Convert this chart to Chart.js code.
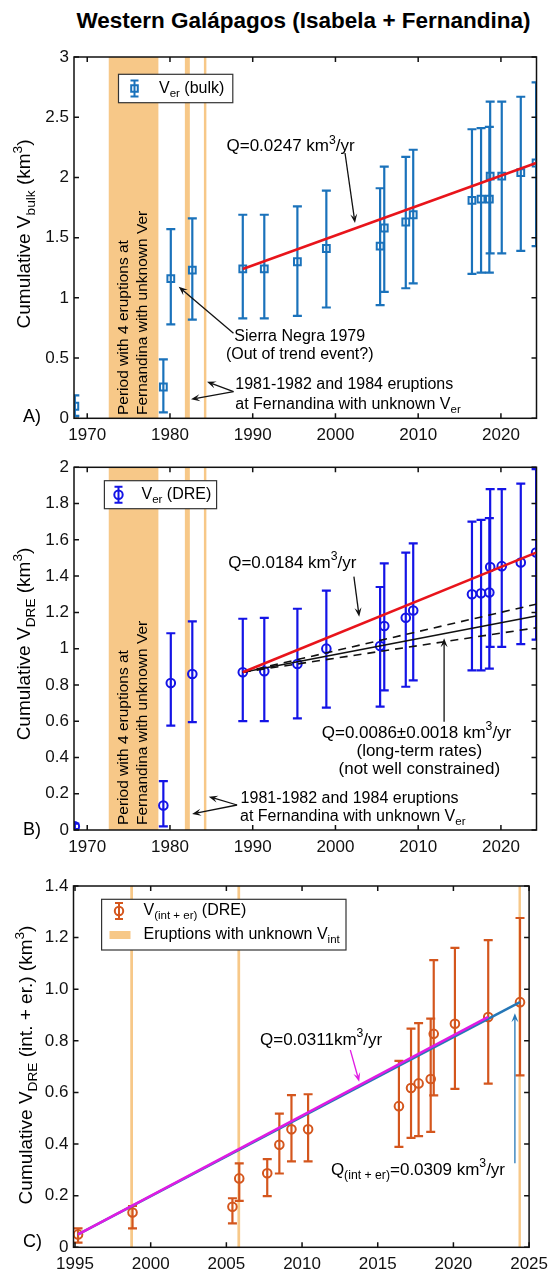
<!DOCTYPE html>
<html>
<head>
<meta charset="utf-8">
<script src="https://cdn.jsdelivr.net/npm/chart.js@4.4.1/dist/chart.umd.min.js"></script>
<style>
  body { margin: 0; background: #fff; width: 555px; height: 1270px; position: relative; overflow: hidden; }
  #title { position: absolute; top: 8px; left: 0; width: 607px; text-align: center;
           font: bold 22.5px "Liberation Sans", Arial, sans-serif; color: #000; }
  canvas { position: absolute; left: 0; }
</style>
</head>
<body>
<div id="title">Western Galápagos (Isabela + Fernandina)</div>
<canvas id="chartA" width="555" height="410" style="top:30px"></canvas>
<canvas id="chartB" width="555" height="420" style="top:440px"></canvas>
<canvas id="chartC" width="555" height="410" style="top:860px"></canvas>
<script>
const FONT = '"Liberation Sans", Arial, sans-serif';

// eruption dates (decimal years) used in panels A and B
const eruptionYears = [1968.5, 1979.2, 1980.1, 1982.7, 1988.8, 1991.4, 1995.4, 1998.9, 2005.4, 2005.9,
  2008.5, 2009.4, 2016.5, 2017.6, 2018.6, 2018.7, 2020.1, 2022.4, 2024.25];

// A) cumulative bulk volume (km3) with error bounds
const vBulk = [0.10, 0.26, 1.16, 1.23, 1.24, 1.24, 1.30, 1.41, 1.43, 1.58, 1.63, 1.69, 1.81, 1.82, 1.82, 2.01, 2.01, 2.04, 2.12];
const bulkLow = [0.02, 0.05, 0.78, 0.82, 0.83, 0.83, 0.85, 0.92, 0.94, 1.05, 1.08, 1.12, 1.20, 1.21, 1.21, 1.37, 1.37, 1.39, 1.43];
const bulkHigh = [0.19, 0.49, 1.57, 1.66, 1.69, 1.69, 1.76, 1.89, 1.91, 2.09, 2.17, 2.23, 2.40, 2.41, 2.42, 2.63, 2.63, 2.67, 2.79];

// B) cumulative DRE volume (km3)
const vDre = [0.02, 0.135, 0.81, 0.86, 0.87, 0.875, 0.915, 1.00, 1.015, 1.125, 1.17, 1.21, 1.30, 1.305, 1.31, 1.45, 1.455, 1.475, 1.53];
const dreLow = [0.005, 0.02, 0.575, 0.595, 0.60, 0.60, 0.615, 0.675, 0.68, 0.77, 0.79, 0.825, 0.88, 0.88, 0.89, 1.01, 1.01, 1.025, 1.05];
const dreHigh = [0.035, 0.27, 1.085, 1.15, 1.165, 1.17, 1.22, 1.32, 1.34, 1.47, 1.53, 1.58, 1.70, 1.71, 1.72, 1.88, 1.88, 1.91, 1.99];

// C) cumulative intrusive + eruptive DRE volume (km3)
const intErYears = [1995.2, 1998.8, 2005.4, 2005.85, 2007.7, 2008.5, 2009.3, 2010.4, 2016.4, 2017.2, 2017.7, 2018.5, 2018.7, 2020.1, 2022.3, 2024.4];
const vIntEr = [0.05, 0.135, 0.157, 0.267, 0.287, 0.397, 0.457, 0.457, 0.547, 0.617, 0.635, 0.652, 0.827, 0.866, 0.892, 0.95];
const intErLow = [0.018, 0.073, 0.093, 0.18, 0.198, 0.286, 0.333, 0.333, 0.389, 0.424, 0.431, 0.447, 0.589, 0.614, 0.634, 0.666];
const intErHigh = [0.073, 0.16, 0.19, 0.325, 0.342, 0.518, 0.59, 0.593, 0.722, 0.847, 0.869, 0.886, 1.113, 1.16, 1.19, 1.276];

// trend lines (start / end)
const fitBulkX = [1988.8, 2024.25];
const fitBulkY = [1.24, 2.12];
const fitDreX = [1988.8, 2024.25];
const fitDreY = [0.87, 1.53];
const longTermY = [0.87, 1.18];
const longTermHighY = [0.87, 1.245];
const longTermLowY = [0.87, 1.115];
const fitIntErX = [1995.2, 2022.3];
const fitIntErY = [0.05, 0.893];
const fitIntErAllX = [1995.2, 2024.4];
const fitIntErAllY = [0.05, 0.95];

// periods with unknown volumes
const unknownPeriodsAB = [[1972.6, 1978.6], [1981.8, 1982.4], [1984.1, 1984.4]];
const unknownIntC = [[1998.65, 1998.83], [2005.73, 2005.91], [2024.3, 2024.46]];

// ticks
const yearTicksAB = [1970, 1980, 1990, 2000, 2010, 2020];
const yearTicksC = [1995, 2000, 2005, 2010, 2015, 2020, 2025];
const bulkTicks = [0, 0.5, 1, 1.5, 2, 2.5, 3];
const bulkTickLabels = ["0", "0.5", "1", "1.5", "2", "2.5", "3"];
const dreTicks = [0, 0.2, 0.4, 0.6, 0.8, 1, 1.2, 1.4, 1.6, 1.8, 2];
const dreTickLabels = ["0", "0.2", "0.4", "0.6", "0.8", "1", "1.2", "1.4", "1.6", "1.8", "2"];
const intErTicks = [0, 0.2, 0.4, 0.6, 0.8, 1.0, 1.2, 1.4];
const intErTickLabels = ["0", "0.2", "0.4", "0.6", "0.8", "1.0", "1.2", "1.4"];

const BAND = "#F7C888";
const BLUE_A = "#1A72BB";
const BLUE_B = "#1414E6";
const ORANGE = "#D4561D";
const RED = "#E8141B";
const MAGENTA = "#E01BE3";
const BLUE_C = "#2677B7";

// text with _{sub} and ^{sup}
function parseRich(str) {
  const segs = [];
  const re = /([_^])\{([^}]*)\}/g;
  let last = 0, m;
  while ((m = re.exec(str))) {
    if (m.index > last) segs.push({ t: str.slice(last, m.index), mode: 0 });
    segs.push({ t: m[2], mode: m[1] === "_" ? 1 : 2 });
    last = re.lastIndex;
  }
  if (last < str.length) segs.push({ t: str.slice(last), mode: 0 });
  return segs;
}

function richText(ctx, str, x, y, size, align = "left", color = "#000") {
  const segs = parseRich(str);
  const fontFor = mode => `${mode ? size * 0.72 : size}px ${FONT}`;
  let w = 0;
  segs.forEach(s => {
    ctx.font = fontFor(s.mode);
    s.w = ctx.measureText(s.t).width;
    w += s.w;
  });
  let cx = align === "center" ? x - w / 2 : align === "right" ? x - w : x;
  ctx.textBaseline = "middle";
  ctx.textAlign = "left";
  ctx.fillStyle = color;
  segs.forEach(s => {
    ctx.font = fontFor(s.mode);
    const dy = s.mode === 1 ? size * 0.32 : s.mode === 2 ? -size * 0.38 : 0;
    ctx.fillText(s.t, cx, y + dy);
    cx += s.w;
  });
}

function rotatedText(ctx, str, x, y, size, align) {
  ctx.save();
  ctx.translate(x, y);
  ctx.rotate(-Math.PI / 2);
  richText(ctx, str, 0, 0, size, align);
  ctx.restore();
}

function arrow(ctx, x0, y0, x1, y1, color) {
  const ang = Math.atan2(y1 - y0, x1 - x0);
  const len = 9, half = 3.5;
  ctx.save();
  ctx.strokeStyle = color;
  ctx.fillStyle = color;
  ctx.lineWidth = 1.3;
  ctx.beginPath();
  ctx.moveTo(x0, y0);
  ctx.lineTo(x1 - Math.cos(ang) * len * 0.6, y1 - Math.sin(ang) * len * 0.6);
  ctx.stroke();
  ctx.beginPath();
  ctx.moveTo(x1, y1);
  ctx.lineTo(x1 - Math.cos(ang) * len - Math.sin(ang) * half, y1 - Math.sin(ang) * len + Math.cos(ang) * half);
  ctx.lineTo(x1 - Math.cos(ang) * len * 0.6, y1 - Math.sin(ang) * len * 0.6);
  ctx.lineTo(x1 - Math.cos(ang) * len + Math.sin(ang) * half, y1 - Math.sin(ang) * len - Math.cos(ang) * half);
  ctx.closePath();
  ctx.fill();
  ctx.restore();
}

function errorIcon(ctx, x, y, color, style) {
  ctx.save();
  ctx.strokeStyle = color;
  ctx.lineWidth = 2;
  ctx.beginPath();
  ctx.moveTo(x, y - 8); ctx.lineTo(x, y + 8);
  ctx.moveTo(x - 4, y - 8); ctx.lineTo(x + 4, y - 8);
  ctx.moveTo(x - 4, y + 8); ctx.lineTo(x + 4, y + 8);
  ctx.stroke();
  ctx.beginPath();
  if (style === "rect") ctx.rect(x - 3.3, y - 3.3, 6.6, 6.6);
  else ctx.arc(x, y, 4.2, 0, Math.PI * 2);
  ctx.stroke();
  ctx.restore();
}

const panelDecor = {
  id: "panelDecor",
  beforeDatasetsDraw(chart, args, p) {
    const { ctx, chartArea: a, scales: { x, y } } = chart;
    ctx.save();
    ctx.beginPath();
    ctx.rect(a.left, a.top, a.right - a.left, a.bottom - a.top);
    ctx.clip();
    ctx.fillStyle = BAND;
    p.bands.forEach(([b0, b1]) => {
      const x0 = x.getPixelForValue(b0), x1 = x.getPixelForValue(b1);
      ctx.fillRect(x0, a.top, x1 - x0, a.bottom - a.top);
    });
    const e = p.err;
    ctx.strokeStyle = e.color;
    ctx.lineWidth = 2.2;
    e.xs.forEach((xv, i) => {
      const px = x.getPixelForValue(xv);
      const lo = y.getPixelForValue(e.lo[i]);
      const hi = y.getPixelForValue(e.hi[i]);
      ctx.beginPath();
      ctx.moveTo(px, lo); ctx.lineTo(px, hi);
      ctx.moveTo(px - 4.5, lo); ctx.lineTo(px + 4.5, lo);
      ctx.moveTo(px - 4.5, hi); ctx.lineTo(px + 4.5, hi);
      ctx.stroke();
    });
    ctx.restore();
  },
  afterDraw(chart, args, p) {
    const { ctx, chartArea: a, scales: { x, y } } = chart;
    ctx.save();
    // band caption
    if (p.bandText) {
      p.bandText.forEach(t => rotatedText(ctx, t.t, t.x, t.y, 15.5, "left"));
    }
    // frame with inward ticks
    ctx.strokeStyle = "#111";
    ctx.lineWidth = 1.5;
    ctx.strokeRect(a.left, a.top, a.right - a.left, a.bottom - a.top);
    ctx.beginPath();
    x.ticks.forEach(t => {
      const px = x.getPixelForValue(t.value);
      ctx.moveTo(px, a.bottom); ctx.lineTo(px, a.bottom - 5);
      ctx.moveTo(px, a.top); ctx.lineTo(px, a.top + 5);
    });
    y.ticks.forEach(t => {
      const py = y.getPixelForValue(t.value);
      ctx.moveTo(a.left, py); ctx.lineTo(a.left + 5, py);
      ctx.moveTo(a.right, py); ctx.lineTo(a.right - 5, py);
    });
    ctx.stroke();
    // legend
    const L = p.legend;
    ctx.fillStyle = "#fff";
    ctx.fillRect(L.x, L.y, L.w, L.h);
    ctx.strokeStyle = "#333";
    ctx.lineWidth = 1.2;
    ctx.strokeRect(L.x, L.y, L.w, L.h);
    L.rows.forEach(r => {
      if (r.swatch) {
        ctx.fillStyle = BAND;
        ctx.fillRect(r.ix - 10.5, r.y - 4, 21, 8);
      } else {
        errorIcon(ctx, r.ix, r.y, r.color, r.style);
      }
      richText(ctx, r.text, r.tx, r.y, 16);
    });
    // annotations
    p.texts.forEach(t => richText(ctx, t.t, t.x, t.y, t.size || 16, t.align || "left"));
    p.arrows.forEach(ar => arrow(ctx, ar[0], ar[1], ar[2], ar[3], ar[4] || "#111"));
    // axis title and panel letter
    rotatedText(ctx, p.yTitle, p.yTitleX, p.yTitleY, 19, "center");
    richText(ctx, p.letter, 23, p.letterY, 18);
    ctx.restore();
  }
};

function points(xs, ys) {
  return xs.map((x, i) => ({ x, y: ys[i] }));
}

function lineSet(xs, ys, color, width, dash) {
  return {
    data: points(xs, ys), showLine: true, borderColor: color, borderWidth: width,
    borderDash: dash || [], pointRadius: 0, fill: false
  };
}

function markerSet(xs, ys, style, color, r) {
  return {
    data: points(xs, ys), showLine: false, pointStyle: style, pointRadius: r,
    pointBorderColor: color, pointBackgroundColor: "rgba(0,0,0,0)", pointBorderWidth: 2,
    borderColor: color, backgroundColor: "rgba(0,0,0,0)"
  };
}

function makePanel(id, box, xRange, xTicks, yRange, yTicks, yLabels, datasets, decor) {
  const canvas = document.getElementById(id);
  const W = canvas.width, H = canvas.height;
  const tickFont = { family: FONT, size: 17 };
  return new Chart(canvas, {
    type: "scatter",
    data: { datasets },
    options: {
      responsive: false,
      animation: false,
      events: [],
      layout: { padding: { top: box.top, right: W - box.right, left: 0, bottom: 0 } },
      plugins: { legend: { display: false }, tooltip: { enabled: false }, panelDecor: decor },
      scales: {
        x: {
          type: "linear", min: xRange[0], max: xRange[1],
          afterBuildTicks: s => { s.ticks = xTicks.map(v => ({ value: v })); },
          afterFit: s => { s.height = H - box.bottom; },
          grid: { display: false, drawTicks: false },
          border: { display: false },
          ticks: { font: tickFont, color: "#111", padding: 7, maxRotation: 0, autoSkip: false, callback: v => String(v) }
        },
        y: {
          type: "linear", min: yRange[0], max: yRange[1],
          afterBuildTicks: s => { s.ticks = yTicks.map(v => ({ value: v })); },
          afterFit: s => { s.width = box.left; },
          grid: { display: false, drawTicks: false },
          border: { display: false },
          ticks: { font: tickFont, color: "#111", padding: 5, autoSkip: false, callback: (v, i) => yLabels[i] }
        }
      }
    },
    plugins: [panelDecor]
  });
}

// Panel A
makePanel("chartA", { left: 74, right: 536.5, top: 27, bottom: 388.3 },
  [1968.4, 2024.3], yearTicksAB, [0, 3], bulkTicks, bulkTickLabels,
  [
    lineSet(fitBulkX, fitBulkY, RED, 2.5),
    markerSet(eruptionYears, vBulk, "rect", BLUE_A, 4.8)
  ],
  {
    bands: unknownPeriodsAB,
    err: { xs: eruptionYears, lo: bulkLow, hi: bulkHigh, color: BLUE_A },
    bandText: [
      { t: "Period with 4 eruptions at", x: 124, y: 385 },
      { t: "Fernandina with unknown Ver", x: 143, y: 385 }
    ],
    legend: { x: 118.5, y: 44.3, w: 114.3, h: 28.4,
      rows: [{ ix: 134.5, y: 58.5, tx: 159, text: "V_{er} (bulk)", color: BLUE_A, style: "rect" }] },
    texts: [
      { t: "Q=0.0247 km^{3}/yr", x: 226.5, y: 116.7, size: 17 },
      { t: "Sierra Negra 1979", x: 299.7, y: 306.7, align: "center" },
      { t: "(Out of trend event?)", x: 299.7, y: 325, align: "center" },
      { t: "1981-1982 and 1984 eruptions", x: 235.3, y: 354.3 },
      { t: "at Fernandina with unknown V_{er}", x: 235.3, y: 374.3 }
    ],
    arrows: [
      [345, 123, 355, 193],
      [233.5, 303.3, 178.7, 256.7],
      [233.5, 361.7, 207, 351.7],
      [233.5, 361.7, 191, 369.3]
    ],
    yTitle: "Cumulative V_{bulk} (km^{3})", yTitleX: 25, yTitleY: 204,
    letter: "A)", letterY: 387
  });

// Panel B
makePanel("chartB", { left: 74, right: 536.5, top: 27.3, bottom: 390 },
  [1968.4, 2024.3], yearTicksAB, [0, 2], dreTicks, dreTickLabels,
  [
    lineSet(fitDreX, fitDreY, RED, 2.5),
    lineSet(fitDreX, longTermY, "#111", 1.6),
    lineSet(fitDreX, longTermHighY, "#111", 1.6, [8, 6]),
    lineSet(fitDreX, longTermLowY, "#111", 1.6, [8, 6]),
    markerSet(eruptionYears, vDre, "circle", BLUE_B, 4.3)
  ],
  {
    bands: unknownPeriodsAB,
    err: { xs: eruptionYears, lo: dreLow, hi: dreHigh, color: BLUE_B },
    bandText: [
      { t: "Period with 4 eruptions at", x: 124, y: 385 },
      { t: "Fernandina with unknown Ver", x: 143, y: 385 }
    ],
    legend: { x: 104.4, y: 40.7, w: 112.2, h: 28,
      rows: [{ ix: 118.5, y: 54.7, tx: 141.5, text: "V_{er} (DRE)", color: BLUE_B, style: "circle" }] },
    texts: [
      { t: "Q=0.0184 km^{3}/yr", x: 228.2, y: 123.3, size: 17 },
      { t: "Q=0.0086±0.0018 km^{3}/yr", x: 416.5, y: 293.3, size: 17, align: "center" },
      { t: "(long-term rates)", x: 419.3, y: 311.7, size: 17, align: "center" },
      { t: "(not well constrained)", x: 419.3, y: 329, size: 17, align: "center" },
      { t: "1981-1982 and 1984 eruptions", x: 240.6, y: 358.3 },
      { t: "at Fernandina with unknown V_{er}", x: 240, y: 376.7 }
    ],
    arrows: [
      [353.9, 136.7, 359.2, 176.7],
      [444.1, 281.7, 444.1, 198.3],
      [237.1, 365, 208.8, 356.7],
      [237.1, 365, 192.1, 374]
    ],
    yTitle: "Cumulative V_{DRE} (km^{3})", yTitleX: 25, yTitleY: 204,
    letter: "B)", letterY: 390
  });

// Panel C
makePanel("chartC", { left: 73.5, right: 535, top: 26, bottom: 387.3 },
  [1994.9, 2025], yearTicksC, [0, 1.4], intErTicks, intErTickLabels,
  [
    lineSet(fitIntErX, fitIntErY, MAGENTA, 2.5),
    lineSet(fitIntErAllX, fitIntErAllY, BLUE_C, 2.5),
    markerSet(intErYears, vIntEr, "circle", ORANGE, 4.3)
  ],
  {
    bands: unknownIntC,
    err: { xs: intErYears, lo: intErLow, hi: intErHigh, color: ORANGE },
    legend: { x: 101.6, y: 39.3, w: 244.4, h: 50.7,
      rows: [
        { ix: 119, y: 51, tx: 143.5, text: "V_{(int + er)} (DRE)", color: ORANGE, style: "circle" },
        { ix: 120, y: 75, tx: 143.5, text: "Eruptions with unknown V_{int}", swatch: true }
      ] },
    texts: [
      { t: "Q=0.0311km^{3}/yr", x: 260, y: 180, size: 17 },
      { t: "Q_{(int + er)}=0.0309 km^{3}/yr", x: 330.9, y: 310, size: 17 }
    ],
    arrows: [
      [350.3, 190, 359.2, 221.7, MAGENTA],
      [514.9, 303.3, 514.9, 153.3, BLUE_C]
    ],
    yTitle: "Cumulative V_{DRE} (int. + er.) (km^{3})", yTitleX: 27, yTitleY: 205,
    letter: "C)", letterY: 382
  });
</script>
</body>
</html>
